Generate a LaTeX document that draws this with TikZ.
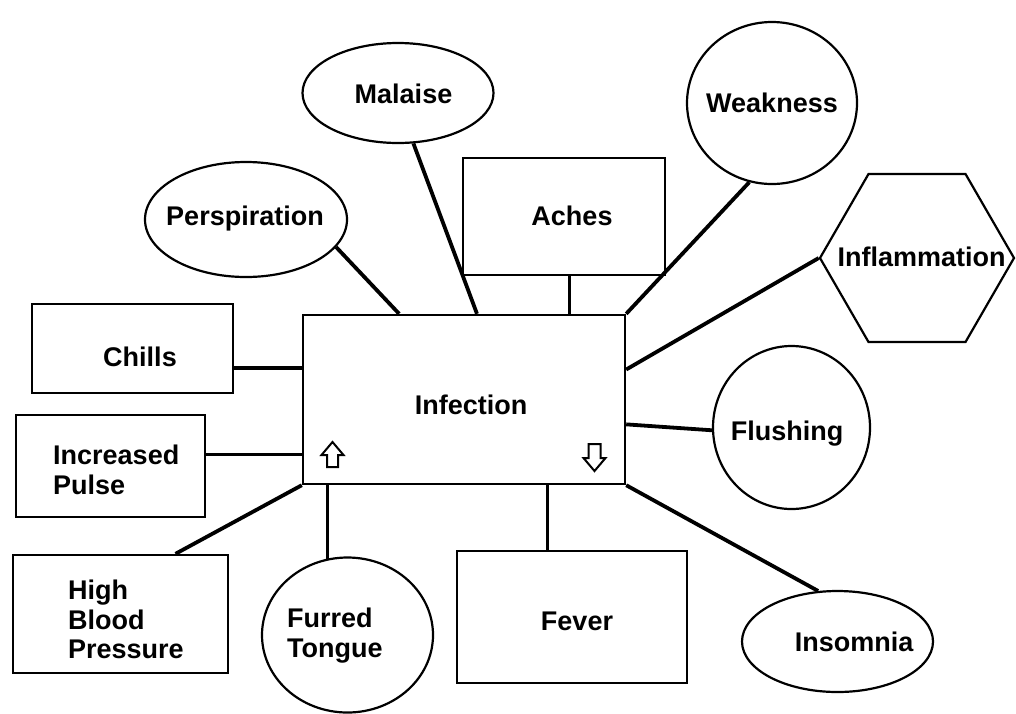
\documentclass[tikz,border=0pt]{standalone}
\usepackage{fontspec}
\setmainfont{Liberation Sans}
\usetikzlibrary{shapes.geometric,calc}
\begin{document}
\begin{tikzpicture}[x=1pt,y=-1pt,
  lbl/.style={font=\fontsize{27}{29.5}\selectfont\bfseries, inner sep=0pt},
  mlbl/.style={lbl, align=left, anchor=north west},
  rbox/.style={draw, line width=2.4pt, rectangle, inner sep=0pt},
  ebox/.style={draw, line width=2.2pt, ellipse, inner sep=0pt},
  hexbox/.style={draw, line width=2.2pt, regular polygon, regular polygon sides=6, inner sep=0pt},
  link/.style={line width=3.8pt},
  thinlink/.style={line width=3pt},
  hollow/.style={draw, line width=2pt, fill=white, line join=miter}
]
\useasboundingbox (0,0) rectangle (1016,713);

% central box
\node[rbox, minimum width=322pt, minimum height=169pt] (inf) at (464,399.5) {};
\node[lbl] (tinf) at (471,405) {Infection};
% up / down markers inside the central box
\draw[hollow] (327,467) -- (327,455) -- (321.5,455) -- (332.5,442) -- (343.5,455) -- (338,455) -- (338,467) -- cycle;
\draw[hollow] (588.5,444) -- (600.5,444) -- (600.5,458) -- (605.5,458) -- (594.5,471) -- (583.5,458) -- (588.5,458) -- cycle;

% surrounding symptoms
\node[ebox, minimum width=191pt, minimum height=100pt] (mal) at (398,93) {};
\node[lbl] (tmal) at (403.5,93.5) {Malaise};

\node[ebox, minimum width=202pt, minimum height=115pt] (persp) at (246,219.5) {};
\node[lbl] (tpersp) at (245,218.5) {Perspiration};

\node[rbox, minimum width=202pt, minimum height=117pt] (aches) at (564,216.5) {};
\node[lbl] (taches) at (572,216) {Aches};

\node[ebox, minimum width=170pt, minimum height=162pt] (weak) at (772,103) {};
\node[lbl] (tweak) at (772,103) {Weakness};

\node[hexbox, minimum size=194pt] (infl) at (917,258) {};
\node[lbl] (tinfl) at (921.5,256.5) {Inflammation};

\node[rbox, minimum width=201pt, minimum height=89pt] (chills) at (132.5,348.5) {};
\node[lbl] (tchills) at (140,357) {Chills};

\node[rbox, minimum width=189pt, minimum height=102pt] (pulse) at (110.5,466) {};
\node[mlbl] (tpulse) at (53,445) {Increased\\Pulse};

\node[ebox, minimum width=157pt, minimum height=163pt] (flush) at (791.5,427.5) {};
\node[lbl] (tflush) at (787,434) {Flushing};

\node[rbox, minimum width=215pt, minimum height=118pt] (hbp) at (120.5,614) {};
\node[mlbl] (thbp) at (68,580) {High\\Blood\\Pressure};

\node[ebox, minimum width=171pt, minimum height=155pt] (tongue) at (347.5,635) {};
\node[mlbl] (ttongue) at (287,608) {Furred\\Tongue};

\node[rbox, minimum width=230pt, minimum height=132pt] (fever) at (572,617) {};
\node[lbl] (tfever) at (577,621.5) {Fever};

\node[ebox, minimum width=191pt, minimum height=101pt] (insom) at (837.5,641.5) {};
\node[lbl] (tinsom) at (854,641.5) {Insomnia};

% attachment points
\coordinate (acB) at ($(aches.south west)!0.525!(aches.south east)$);
\coordinate (chR) at ($(chills.north east)!0.71!(chills.south east)$);
\coordinate (puR) at ($(pulse.north east)!0.39!(pulse.south east)$);
\coordinate (hbT) at ($(hbp.north west)!0.753!(hbp.north east)$);
\coordinate (fvT) at ($(fever.north west)!0.396!(fever.north east)$);
\coordinate (ftT) at (tongue.105.9);

% connectors
\draw[link] (persp.-17.5) -- ($(inf.north west)!0.30!(inf.north east)$);
\draw[link] (mal.-73.3) -- ($(inf.north west)!0.54!(inf.north east)$);
\draw[thinlink] (acB) -- (acB |- inf.north);
\draw[link] (weak.-106.9) -- (inf.north east);
\draw[link] (infl.west) -- ($(inf.north east)!0.325!(inf.south east)$);
\draw[link] (flush.182) -- ($(inf.north east)!0.645!(inf.south east)$);
\draw[link] (insom.111.4) -- (inf.south east);
\draw[thinlink] (fvT) -- (fvT |- inf.south);
\draw[thinlink] (ftT) -- (ftT |- inf.south);
\draw[link] (hbT) -- (inf.south west);
\draw[link] (puR) -- (puR -| inf.west);
\draw[link] (chR) -- (chR -| inf.west);
\end{tikzpicture}
\end{document}
